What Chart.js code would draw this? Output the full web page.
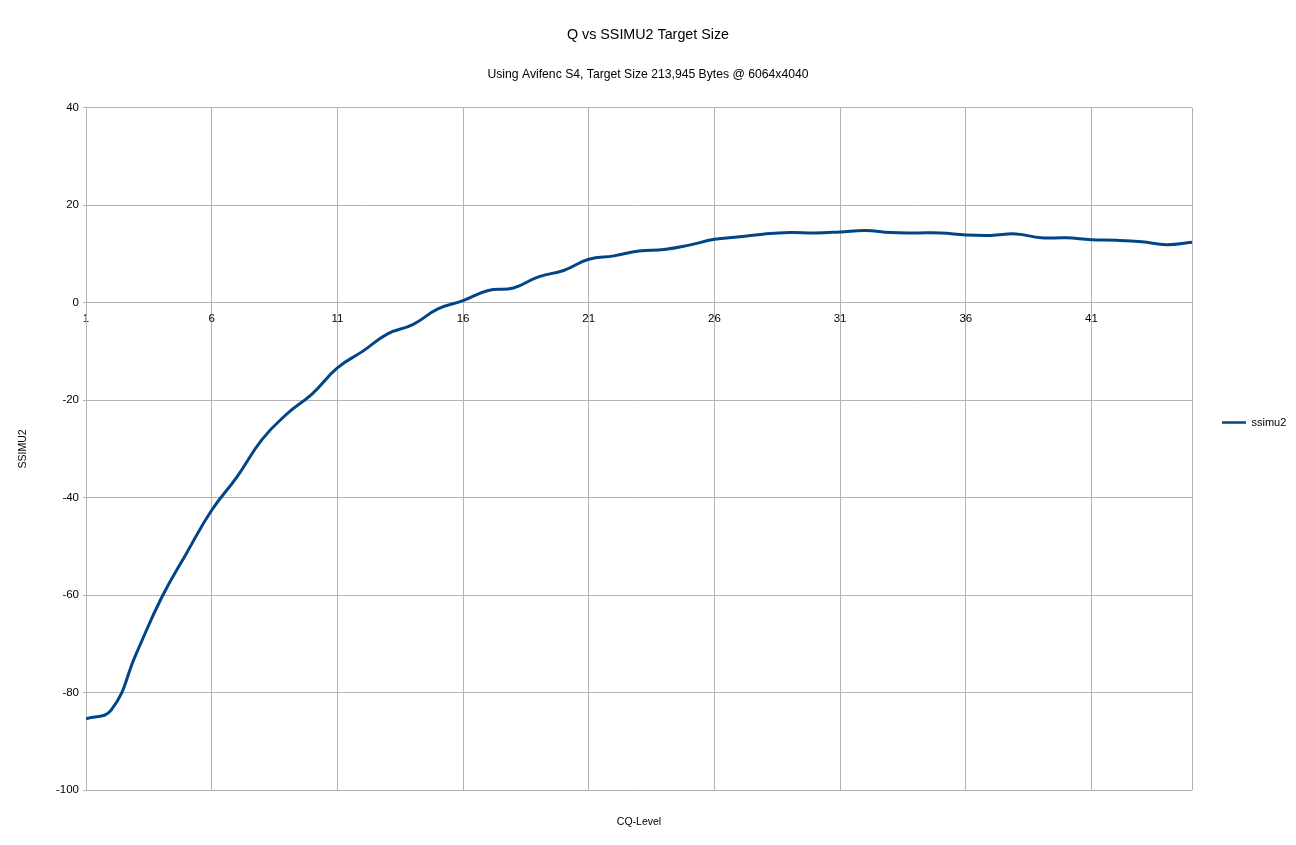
<!DOCTYPE html>
<html>
<head>
<meta charset="utf-8">
<script src="https://cdn.jsdelivr.net/npm/chart.js@4/dist/chart.umd.min.js"></script>
<style>
html,body{margin:0;padding:0;background:#fff;}
#wrap{width:1296px;height:845px;}
</style>
</head>
<body>
<div id="wrap"><canvas id="c" width="1296" height="845"></canvas></div>
<script>
const cqLevels = [1,2,3,4,5,6,7,8,9,10,11,12,13,14,15,16,17,18,19,20,21,22,23,24,25,26,27,28,29,30,31,32,33,34,35,36,37,38,39,40,41,42,43,44,45];
const ssimu2 = [-85.4,-83.6,-72.0,-60.6,-51.4,-42.6,-35.8,-28.1,-22.8,-18.7,-13.4,-10.0,-6.4,-4.5,-1.3,0.4,2.5,3.0,5.3,6.6,8.9,9.6,10.6,10.9,11.8,13.0,13.5,14.1,14.4,14.3,14.5,14.8,14.4,14.3,14.3,13.9,13.8,14.1,13.3,13.3,12.9,12.8,12.5,11.9,12.4];
const xTickValues = [1,6,11,16,21,26,31,36,41,45];
const xTickLabels = ['1','6','11','16','21','26','31','36','41',''];
const yTickValues = [40,20,0,-20,-40,-60,-80,-100];

const FONT = "'Liberation Sans', Arial, sans-serif";
const GRID = '#b3b3b3';
const LINE = '#004586';

const points = cqLevels.map((x, i) => ({x: x, y: ssimu2[i]}));

new Chart(document.getElementById('c'), {
  type: 'line',
  data: {
    datasets: [{
      label: 'ssimu2',
      data: points,
      borderColor: LINE,
      backgroundColor: LINE,
      borderWidth: 3,
      pointRadius: 0,
      tension: 0.45,
      fill: false
    }]
  },
  options: {
    responsive: false,
    animation: false,
    devicePixelRatio: 1,
    layout: {padding: 0},
    plugins: {
      title: {
        display: true,
        text: 'Q vs SSIMU2 Target Size',
        color: '#000',
        font: {family: FONT, size: 14.3, weight: 'normal', lineHeight: 1.2},
        padding: {top: 26.4, bottom: 0}
      },
      subtitle: {
        display: true,
        text: 'Using Avifenc S4, Target Size 213,945 Bytes @ 6064x4040',
        color: '#000',
        font: {family: FONT, size: 12.2, weight: 'normal', lineHeight: 1.2},
        padding: {top: 23.5, bottom: 26}
      },
      legend: {
        display: true,
        position: 'right',
        align: 'center',
        maxWidth: 104,
        labels: {
          color: '#000',
          font: {family: FONT, size: 11},
          boxWidth: 24,
          boxHeight: 0,
          padding: 30,
          generateLabels: (chart) => {
            const items = Chart.defaults.plugins.legend.labels.generateLabels(chart);
            items.forEach(it => { it.lineWidth = 2.5; it.lineCap = 'butt'; });
            return items;
          }
        }
      },
      tooltip: {enabled: false}
    },
    scales: {
      x: {
        type: 'linear',
        position: {y: 0},
        min: 1,
        max: 45,
        afterBuildTicks: (scale) => {
          scale.ticks = xTickValues.map(v => ({value: v}));
        },
        ticks: {
          autoSkip: false,
          maxRotation: 0,
          color: '#000',
          font: {family: FONT, size: 11.5},
          padding: 9,
          callback: (value) => {
            const idx = xTickValues.indexOf(value);
            return idx >= 0 ? xTickLabels[idx] : '';
          }
        },
        grid: {color: GRID, lineWidth: 1, drawTicks: false},
        border: {display: false}
      },
      x2: {
        type: 'linear',
        position: 'bottom',
        min: 1,
        max: 45,
        ticks: {display: false},
        grid: {display: false, drawTicks: false},
        border: {display: false},
        title: {
          display: true,
          text: 'CQ-Level',
          color: '#000',
          font: {family: FONT, size: 10.5, lineHeight: 1.2},
          padding: {top: 0, bottom: 16.7}
        },
        afterFit: (scale) => { scale.height = 55; }
      },
      y: {
        type: 'linear',
        position: 'left',
        min: -100,
        max: 40,
        afterBuildTicks: (scale) => {
          scale.ticks = yTickValues.map(v => ({value: v}));
        },
        ticks: {
          color: '#000',
          font: {family: FONT, size: 11.5},
          padding: 4
        },
        grid: {color: GRID, lineWidth: 1, drawTicks: true, tickLength: 3},
        border: {display: true, color: GRID, width: 1},
        title: {
          display: true,
          text: 'SSIMU2',
          color: '#000',
          font: {family: FONT, size: 10.5, lineHeight: 1.2},
          padding: {top: 16.5, bottom: 0}
        },
        afterFit: (scale) => { scale.width = 86; }
      }
    }
  }
});
</script>
</body>
</html>
